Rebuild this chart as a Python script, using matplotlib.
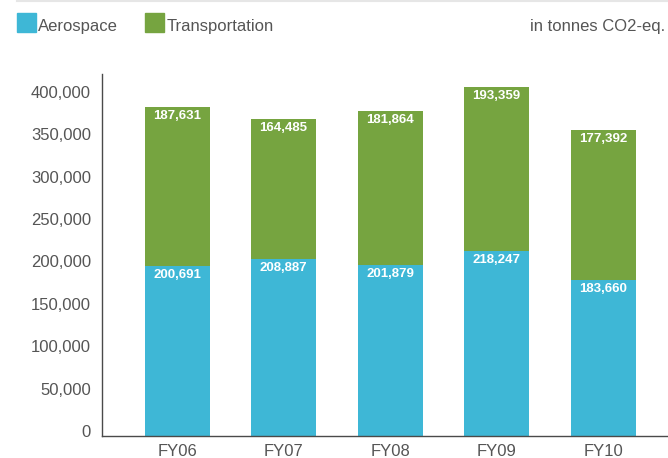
import matplotlib
matplotlib.use("Agg")
import matplotlib.pyplot as plt
from matplotlib.patches import Rectangle
from matplotlib.lines import Line2D
from matplotlib.transforms import ScaledTranslation

years = ["FY06", "FY07", "FY08", "FY09", "FY10"]
aerospace = [200691, 208887, 201879, 218247, 183660]
transportation = [187631, 164485, 181864, 193359, 177392]
yticks = [0, 50000, 100000, 150000, 200000, 250000, 300000, 350000, 400000]

blue = "#3eb7d6"
green = "#76a440"
text_grey = "#555555"

plt.rcParams["font.family"] = ["Liberation Sans", "DejaVu Sans"]

W, H = 668, 458
fig = plt.figure(figsize=(W / 100, H / 100), dpi=100)
ax = fig.add_axes([102 / W, (H - 436) / H, (668 - 102) / W, (436 - 74) / H])

x = list(range(len(years)))
bw = 0.61
ax.bar(x, aerospace, width=bw, color=blue, zorder=2)
ax.bar(x, transportation, width=bw, bottom=aerospace, color=green, zorder=2)

for xi, a, t in zip(x, aerospace, transportation):
    ax.annotate(f"{a:,}", (xi, a), xytext=(0, -6.5), textcoords="offset points",
                ha="center", va="center", color="white", fontsize=9.5, fontweight="bold")
    ax.annotate(f"{t:,}", (xi, a + t), xytext=(0, -6.5), textcoords="offset points",
                ha="center", va="center", color="white", fontsize=9.5, fontweight="bold")

ax.set_xlim(-0.705, 4.61)
ax.set_ylim(0, 427000)
ax.set_yticks(yticks)
ax.set_yticklabels([f"{v:,}" for v in yticks])
ax.set_xticks(x)
ax.set_xticklabels(years)
ax.tick_params(axis="both", length=0, labelsize=12, colors=text_grey)
ax.tick_params(axis="y", pad=8)
ax.tick_params(axis="x", pad=6)

# y labels sit slightly above their gridline values
shift = ScaledTranslation(0, 5 / 100, fig.dpi_scale_trans)
for lbl in ax.get_yticklabels():
    lbl.set_transform(lbl.get_transform() + shift)

for s in ["top", "right"]:
    ax.spines[s].set_visible(False)
for s in ["left", "bottom"]:
    ax.spines[s].set_color("#4a4a4a")
    ax.spines[s].set_linewidth(1.0)

# thin rule along the top edge
fig.add_artist(Line2D([17 / W, 1], [1 - 1 / H, 1 - 1 / H], color="#e6e6e6", lw=1.5))

# legend swatches and labels
fig.add_artist(Rectangle((17 / W, (H - 32) / H), 19 / W, 19 / H, color=blue))
fig.text(38 / W, (H - 26) / H, "Aerospace", fontsize=12, color=text_grey, va="center")
fig.add_artist(Rectangle((145 / W, (H - 32) / H), 19 / W, 19 / H, color=green))
fig.text(167 / W, (H - 26) / H, "Transportation", fontsize=12, color=text_grey, va="center")
fig.text(665 / W, (H - 26) / H, "in tonnes CO2-eq.", fontsize=12, color=text_grey,
         va="center", ha="right")

fig.savefig("out.png", dpi=100)
